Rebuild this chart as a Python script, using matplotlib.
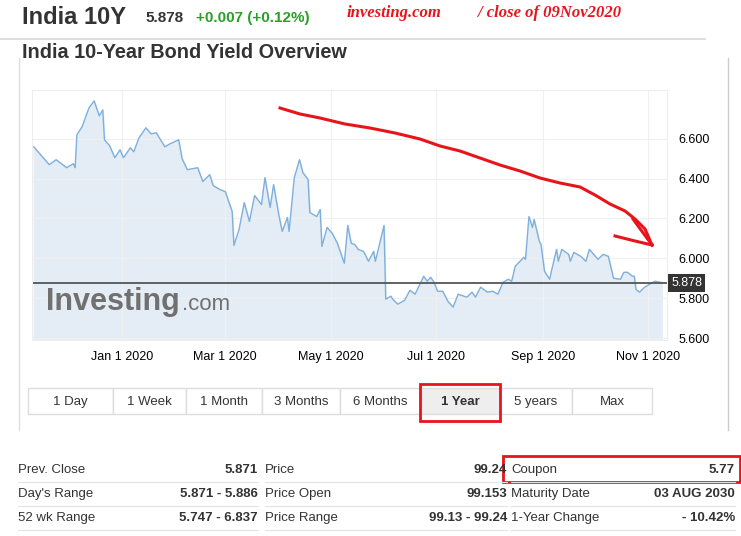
import matplotlib
matplotlib.use("Agg")
import matplotlib.pyplot as plt
from matplotlib.patches import Rectangle
import pandas as pd

plt.rcParams['font.family'] = ['Liberation Sans', 'DejaVu Sans']

# days since 2020-01-01
days = [-51,-46,-42,-38,-32,-28,-27,-26,-23,-19,-16,-13,-11,-10,-7,-4,-1,1,5,7,10,14,17,20,25,28,33,35,38,44,47,51,53,57,60,64,65,68,71,74,77,81,83,86,88,91,93,96,97,100,103,105,108,109,113,115,116,119,122,125,129,131,133,135,137,140,141,143,146,147,152,153,156,157,160,
        164,167,170,175,177,179,181,183,186,189,192,195,200,203,205,208,212,215,218,221,224,226,228,233,234,236,238,239,242,243,245,248,249,252,253,255,259,260,262,266,269,271,276,279,282,285,289,291,293,296,297,298,300,303,309,313]
yields = [6.56,6.51,6.47,6.495,6.455,6.475,6.455,6.62,6.66,6.755,6.79,6.715,6.745,6.595,6.565,6.505,6.545,6.505,6.555,6.535,6.605,6.655,6.625,6.63,6.56,6.575,6.595,6.5,6.445,6.455,6.385,6.42,6.365,6.345,6.335,6.235,6.065,6.145,6.28,6.185,6.315,6.27,6.405,6.255,6.37,6.22,6.135,6.205,6.135,6.405,6.495,6.43,6.395,6.23,6.21,6.245,6.06,6.155,6.125,6.075,5.975,6.165,6.075,6.07,6.045,6.035,6.02,5.985,6.035,5.985,6.165,5.795,5.81,5.795,5.77,
          5.79,5.84,5.82,5.91,5.885,5.905,5.88,5.835,5.835,5.785,5.755,5.82,5.805,5.83,5.805,5.855,5.83,5.835,5.82,5.88,5.895,5.885,5.96,6.005,5.995,6.21,6.155,6.195,6.085,6.07,5.935,5.895,5.935,6.045,5.985,6.045,6.02,5.985,6.03,6.01,5.985,6.045,5.995,6.02,6.01,5.9,5.895,5.93,5.93,5.91,5.91,5.845,5.83,5.855,5.885,5.878]
last_price = 5.878
yticks = [5.6, 5.8, 6.0, 6.2, 6.4, 6.6]
xtick_dates = ["2020-01-01","2020-03-01","2020-05-01","2020-07-01","2020-09-01","2020-11-01"]
xtick_labels = ["Jan 1 2020","Mar 1 2020","May 1 2020","Jul 1 2020","Sep 1 2020","Nov 1 2020"]
buttons = ["1 Day","1 Week","1 Month","3 Months","6 Months","1 Year","5 years","Max"]
table = [
    [("Prev. Close","5.871"),("Price","99.24"),("Coupon","5.77")],
    [("Day's Range","5.871 - 5.886"),("Price Open","99.153"),("Maturity Date","03 AUG 2030")],
    [("52 wk Range","5.747 - 6.837"),("Price Range","99.13 - 99.24"),("1-Year Change","- 10.42%")],
]

W, H = 741, 536
fig = plt.figure(figsize=(W/100, H/100), dpi=100)
def T(x, y, s, **kw):
    fig.text(x/W, 1-y/H, s, **kw)
def R(x0, y0, x1, y1, **kw):
    fig.add_artist(Rectangle((x0/W, 1-y1/H), (x1-x0)/W, (y1-y0)/H, transform=fig.transFigure, **kw))
def L(xs, ys, **kw):
    fig.add_artist(plt.Line2D([x/W for x in xs], [1-y/H for y in ys], transform=fig.transFigure, **kw))

dates = pd.Timestamp("2020-01-01") + pd.to_timedelta(days, unit="D")
ax = fig.add_axes([32/W, 1-340/H, (667-32)/W, 250/H])
ax.fill_between(dates, yields, 5.59, color="#e4edf5")
ax.plot(dates, yields, color="#7fb0dc", lw=1)
ax.axhline(last_price, color="#555555", lw=1.3)
ax.set_ylim(5.59, 6.845)
ax.set_xlim(pd.Timestamp("2019-11-10"), pd.Timestamp("2020-11-12"))
ax.yaxis.tick_right()
ax.set_yticks(yticks)
ax.set_yticklabels([f"{v:.3f}" for v in yticks], fontsize=9)
ax.set_xticks(pd.to_datetime(xtick_dates))
ax.set_xticklabels(xtick_labels, fontsize=9)
ax.tick_params(length=0, pad=8)
ax.grid(color="#f0f0f0", lw=0.8)
for s in ax.spines.values():
    s.set_color("#eeeeee")
ax.annotate(f"{last_price:.3f}", xy=(1, last_price), xycoords=("axes fraction", "data"),
            xytext=(3, 0), textcoords="offset points", va="center", ha="left", fontsize=9,
            color="white", bbox=dict(boxstyle="square,pad=0.25", fc="#333333", ec="none"))
ax.text(0.022, 0.12, "Investing", transform=ax.transAxes, fontsize=22, fontweight="bold", color="#707070")
ax.text(0.237, 0.12, ".com", transform=ax.transAxes, fontsize=16, color="#707070")

# outer frame
L([0, 705], [39, 39], color="#d8d8d8", lw=1.2)
L([19, 19], [58, 430], color="#dddddd", lw=1)
L([728, 728], [58, 430], color="#cccccc", lw=1)

# header
T(22, 17, "India 10Y", fontsize=17, fontweight="bold", color="#333333", va="center")
T(145, 18, "5.878", fontsize=11, fontweight="bold", color="#333333", va="center")
T(196, 18, "+0.007 (+0.12%)", fontsize=11, fontweight="bold", color="#2aa02a", va="center")
T(347, 13, "investing.com", fontsize=12, fontweight="bold", style="italic", color="#e8141c",
  family="Liberation Serif", va="center")
T(478, 13, "/ close of 09Nov2020", fontsize=12, fontweight="bold", style="italic", color="#e8141c",
  family="Liberation Serif", va="center")
T(22, 52, "India 10-Year Bond Yield Overview", fontsize=14.3, fontweight="bold", color="#333333", va="center")

# red hand-drawn arrow
cx = [280, 300, 320, 345, 370, 395, 420, 440, 460, 480, 500, 520, 540, 560, 580, 595, 610, 625, 635, 645, 652]
cy = [108, 114, 118, 124, 128, 133, 139, 146, 151, 158, 165, 171, 178, 183, 187, 195, 204, 211, 219, 229, 245]
L(cx, cy, color="#e8141c", lw=2.2)
L([615, 635, 652], [236, 241, 245], color="#e8141c", lw=2.2)
L([633, 652], [219, 245], color="#e8141c", lw=2.2)

# buttons
bx = [28, 113, 186, 262, 340, 420, 500, 572, 652]
for i, b in enumerate(buttons):
    R(bx[i], 388, bx[i+1], 414, fc="#eeeeee" if b == "1 Year" else "white", ec="#dddddd", lw=1)
    T((bx[i]+bx[i+1])/2, 402, b, fontsize=9.5, color="#333333", ha="center", va="center",
      fontweight="bold" if b == "1 Year" else "normal")
R(420, 384, 500, 421, fc="none", ec="#e8141c", lw=2)

# table
cols = [(18, 258), (265, 507), (511, 735)]
rows = [470, 494, 518]
for r, row in enumerate(table):
    for c, (lab, val) in enumerate(row):
        x0, x1 = cols[c]
        T(x0, rows[r], lab, fontsize=9.5, color="#333333", va="center")
        T(x1, rows[r], val, fontsize=9.5, color="#333333", va="center", ha="right", fontweight="bold")
        L([x0, x1], [rows[r]+12, rows[r]+12], color="#e4e4e4", lw=0.8)
R(503, 456, 740, 482, fc="none", ec="#e8141c", lw=2)

fig.savefig("out.png", dpi=100)
